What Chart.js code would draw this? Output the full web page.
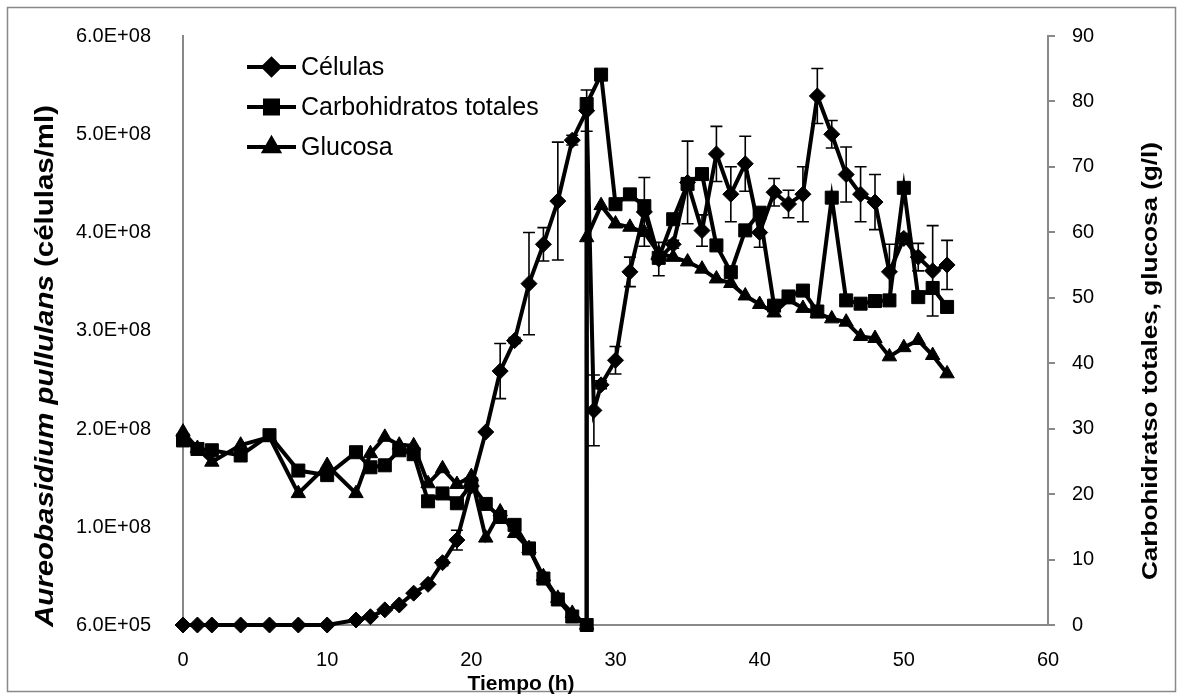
<!DOCTYPE html>
<html>
<head>
<meta charset="utf-8">
<title>Cultivo Aureobasidium pullulans</title>
<script src="https://cdn.jsdelivr.net/npm/chart.js@4/dist/chart.umd.min.js"></script>
<style>
  body { margin: 0; background: #fff; }
  canvas { display: block; }
</style>
</head>
<body>
<canvas id="chart_cultivo" width="1183" height="698"></canvas>
<script>
// muestreos (h) y medidas del cultivo
let horas_cel = [0, 1, 2, 4, 6, 8, 10, 12, 13, 14, 15, 16, 17, 18, 19, 20, 21, 22, 23, 24, 25, 26, 27, 28, 28.5,
  29, 30, 31, 32, 33, 34, 35, 36, 37, 38, 39, 40, 41, 42, 43, 44, 45, 46, 47, 48, 49, 50, 51, 52, 53]
let celulas = [6.0e5, 6.0e5, 6.0e5, 6.0e5, 6.0e5, 6.0e5, 6.0e5, 5.7e6, 9.0e6, 1.6e7, 2.1e7, 3.3e7, 4.2e7, 6.4e7, 8.7e7,
  1.42e8, 1.97e8, 2.59e8, 2.90e8, 3.48e8, 3.88e8, 4.32e8, 4.94e8, 5.24e8, 2.19e8,
  2.45e8, 2.70e8, 3.60e8, 4.21e8, 3.73e8, 3.88e8, 4.51e8, 4.02e8, 4.80e8, 4.39e8, 4.70e8, 4.00e8, 4.41e8, 4.29e8,
  4.39e8, 5.39e8, 5.00e8, 4.59e8, 4.39e8, 4.31e8, 3.60e8, 3.94e8, 3.75e8, 3.61e8, 3.67e8]
// desviacion de los recuentos
let celulas_err = [0, 0, 0, 0, 0, 0, 0, 0, 0, 0, 0, 0, 0, 3e6, 1.0e7, 0, 0, 2.8e7, 3e6, 5.2e7, 1.7e7, 6.0e7, 5e6, 2.1e7, 3.6e7,
  4e6, 1.4e7, 1.5e7, 3.5e7, 1.7e7, 4e6, 4.2e7, 1.6e7, 2.8e7, 2.8e7, 2.8e7, 1.5e7, 1.4e7, 1.4e7,
  2.8e7, 2.8e7, 1.4e7, 2.8e7, 2.8e7, 2.8e7, 2.8e7, 5e6, 1.4e7, 4.6e7, 2.5e7]

// a las 28 h se alimenta el reactor: dos puntos en la misma hora
let horas_carb = [0, 1, 2, 4, 6, 8, 10, 12, 13, 14, 15, 16, 17, 18, 19, 20, 21, 22, 23, 24, 25, 26, 27, 28, 28,
  29, 30, 31, 32, 33, 34, 35, 36, 37, 38, 39, 40, 41, 42, 43, 44, 45, 46, 47, 48, 49, 50, 51, 52, 53]
let carbohidratos = [28.2, 26.9, 26.7, 25.9, 29.0, 23.6, 22.9, 26.4, 24.1, 24.4, 26.7, 26.1, 18.9, 20.1, 18.6,
  21.5, 18.5, 16.5, 15.3, 11.7, 7.1, 3.9, 1.3, 0, 79.6,
  84.1, 64.3, 65.8, 64.0, 56.1, 62.0, 67.4, 68.9, 58.0, 53.9, 60.3, 63.0, 48.8, 50.2,
  51.1, 47.9, 65.3, 49.6, 49.1, 49.5, 49.6, 66.8, 50.1, 51.5, 48.6]
let glucosa = [29.5, 27.0, 24.9, 27.5, 28.7, 20.1, 24.4, 20.1, 26.2, 28.7, 27.5, 27.4, 21.6, 23.9, 21.5,
  22.7, 13.3, 17.3, 14.0, 11.7, 7.4, 4.1, 1.8, 0, 59.2,
  64.1, 61.3, 60.8, 60.0, 56.8, 56.2, 55.5, 54.4, 52.9, 52.2, 50.3, 49.0, 47.7, 49.7,
  48.4, 47.6, 46.8, 46.3, 44.1, 43.8, 41.0, 42.4, 43.5, 41.2, 38.4]

let nombres = ['Células', 'Carbohidratos totales', 'Glucosa']
let ticks_tiempo = [0, 10, 20, 30, 40, 50, 60]
let ticks_celulas = [6.0e5, 1.0e8, 2.0e8, 3.0e8, 4.0e8, 5.0e8, 6.0e8]
let ticks_gl = [0, 10, 20, 30, 40, 50, 60, 70, 80, 90]

const GRIS = '#898989'
const TXT = '#000'

function puntos(xs, ys) {
  return xs.map((x, i) => ({ x: x, y: ys[i] }))
}

// 6.0E+08
function formatoE(v) {
  let [m, e] = v.toExponential(1).split('e')
  let n = parseInt(e)
  return m + 'E' + (n < 0 ? '-' : '+') + String(Math.abs(n)).padStart(2, '0')
}

// barras de error sobre la serie de celulas
const barrasError = {
  id: 'barrasError',
  afterDatasetDraw(chart, args) {
    if (args.index !== 0) return
    let ctx = chart.ctx
    let y = chart.scales.yCel
    ctx.save()
    ctx.strokeStyle = '#000'
    ctx.lineWidth = 1.6
    args.meta.data.forEach((p, i) => {
      let err = celulas_err[i]
      if (!err) return
      let top = y.getPixelForValue(celulas[i] + err)
      let bot = y.getPixelForValue(celulas[i] - err)
      ctx.beginPath()
      ctx.moveTo(p.x, top); ctx.lineTo(p.x, bot)
      ctx.moveTo(p.x - 6, top); ctx.lineTo(p.x + 6, top)
      ctx.moveTo(p.x - 6, bot); ctx.lineTo(p.x + 6, bot)
      ctx.stroke()
    })
    ctx.restore()
  }
}

// texto girado, estirado a lo largo para ocupar "largo" px
function textoVertical(ctx, partes, x, cy, largo) {
  let anchos = partes.map(p => { ctx.font = p.font; return ctx.measureText(p.text).width })
  let total = anchos.reduce((a, b) => a + b, 0)
  ctx.save()
  ctx.translate(x, cy)
  ctx.rotate(-Math.PI / 2)
  ctx.scale(largo / total, 1)
  ctx.fillStyle = TXT
  ctx.textBaseline = 'alphabetic'
  ctx.textAlign = 'left'
  let pos = -total / 2
  partes.forEach((p, i) => {
    ctx.font = p.font
    ctx.fillText(p.text, pos, 0)
    pos += anchos[i]
  })
  ctx.restore()
}

const marcoYTextos = {
  id: 'marcoYTextos',
  beforeDraw(chart) {
    let ctx = chart.ctx
    ctx.save()
    ctx.fillStyle = '#fff'
    ctx.fillRect(0, 0, chart.width, chart.height)
    ctx.strokeStyle = GRIS
    ctx.lineWidth = 1.5
    ctx.strokeRect(7.5, 7.5, chart.width - 15, chart.height - 14)
    ctx.restore()
  },
  afterDraw(chart) {
    let ctx = chart.ctx
    // titulos de ejes
    textoVertical(ctx, [
      { text: 'Aureobasidium pullulans', font: 'italic bold 26px "Liberation Sans", Arial, sans-serif' },
      { text: ' (células/ml)', font: 'bold 26px "Liberation Sans", Arial, sans-serif' }
    ], 53, 366, 522)
    textoVertical(ctx, [
      { text: 'Carbohidratso totales, glucosa (g/l)', font: 'bold 22px "Liberation Sans", Arial, sans-serif' }
    ], 1157, 361, 438)
    ctx.save()
    ctx.fillStyle = TXT
    ctx.font = 'bold 21px "Liberation Sans", Arial, sans-serif'
    ctx.textAlign = 'center'
    ctx.textBaseline = 'alphabetic'
    ctx.fillText('Tiempo (h)', 521, 690)

    // leyenda
    ctx.font = '25px "Liberation Sans", Arial, sans-serif'
    ctx.textAlign = 'left'
    ctx.textBaseline = 'middle'
    chart.data.datasets.forEach((ds, i) => {
      let yy = 67 + i * 40
      ctx.strokeStyle = '#000'
      ctx.lineWidth = ds.borderWidth
      ctx.beginPath()
      ctx.moveTo(247, yy); ctx.lineTo(296, yy)
      ctx.stroke()
      ctx.fillStyle = '#000'
      Chart.helpers.drawPoint(ctx, {
        pointStyle: ds.pointStyle, radius: ds.pointRadius, borderWidth: 1, rotation: 0
      }, 271.5, yy)
      ctx.fillStyle = TXT
      ctx.fillText(nombres[i], 301, yy + 1)
    })
    ctx.restore()
  }
}

let fuenteTicks = { family: '"Liberation Sans", Arial, sans-serif', size: 20 }

let serie = (label, xs, ys, eje, estilo, radio, orden) => ({
  label: label,
  data: puntos(xs, ys),
  yAxisID: eje,
  borderColor: '#000',
  backgroundColor: '#000',
  borderWidth: 4,
  pointStyle: estilo,
  pointRadius: radio,
  pointHoverRadius: radio,
  pointBorderWidth: 1,
  pointBackgroundColor: '#000',
  pointBorderColor: '#000',
  tension: 0,
  clip: false,
  order: orden
})

new Chart(document.getElementById('chart_cultivo').getContext('2d'), {
  type: 'line',
  data: {
    datasets: [
      serie(nombres[0], horas_cel, celulas, 'yCel', 'rectRot', 8, 3),
      serie(nombres[1], horas_carb, carbohidratos, 'yGl', 'rect', 9.2, 2),
      serie(nombres[2], horas_carb, glucosa, 'yGl', 'triangle', 8.3, 1)
    ]
  },
  options: {
    responsive: false,
    animation: false,
    events: [],
    layout: { padding: { top: 35, left: 0, right: 0, bottom: 0 } },
    plugins: { legend: { display: false }, tooltip: { enabled: false } },
    scales: {
      x: {
        type: 'linear',
        min: 0, max: 60,
        afterBuildTicks: s => { s.ticks = ticks_tiempo.map(v => ({ value: v })) },
        afterFit: s => { s.height = 73 },
        grid: { display: false },
        border: { display: true, color: GRIS, width: 2 },
        ticks: { color: TXT, font: fuenteTicks, padding: 15, maxRotation: 0 }
      },
      yCel: {
        type: 'linear',
        position: 'left',
        min: 6.0e5, max: 6.0e8,
        afterBuildTicks: s => { s.ticks = ticks_celulas.map(v => ({ value: v })) },
        afterFit: s => { s.width = 183 },
        grid: { display: false },
        border: { display: true, color: GRIS, width: 2 },
        ticks: { color: TXT, font: fuenteTicks, padding: 24, callback: v => formatoE(v) }
      },
      yGl: {
        type: 'linear',
        position: 'right',
        min: 0, max: 90,
        afterBuildTicks: s => { s.ticks = ticks_gl.map(v => ({ value: v })) },
        afterFit: s => { s.width = 135 },
        grid: { drawOnChartArea: false, drawTicks: true, tickLength: 7, color: GRIS, lineWidth: 2 },
        border: { display: true, color: GRIS, width: 2 },
        ticks: { color: TXT, font: fuenteTicks, padding: 17 }
      }
    }
  },
  plugins: [marcoYTextos, barrasError]
})
</script>
</body>
</html>
